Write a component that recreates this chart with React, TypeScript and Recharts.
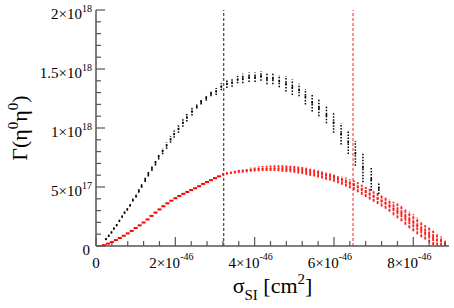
import React from 'react';
import { ScatterChart, Scatter, XAxis, YAxis, ErrorBar, ReferenceLine } from 'recharts';

const FONT = "'Liberation Serif', 'Times New Roman', 'DejaVu Serif', serif";
const AXIS_COLOR = '#555';

// x in units of 1e-46 cm^2, y in units of 1e17
const blackX = [0.25, 0.32, 0.39, 0.45, 0.52, 0.59, 0.66, 0.72, 0.79, 0.86, 0.93, 1.01, 1.08, 1.15, 1.24, 1.32, 1.41, 1.5, 1.58, 1.68, 1.78, 1.88, 1.97, 2.08, 2.19, 2.29, 2.42, 2.54, 2.65, 2.78, 2.9, 3.03, 3.16, 3.3, 3.43, 3.57, 3.7, 3.86, 4.01, 4.16, 4.31, 4.46, 4.62, 4.79, 4.95, 5.12, 5.28, 5.45, 5.62, 5.81, 5.99, 6.18, 6.36, 6.54, 6.73, 6.94, 7.13];
const blackLo = [0.5, 0.78, 1.07, 1.4, 1.68, 2.04, 2.4, 2.73, 3.0, 3.34, 3.78, 4.1, 4.52, 4.93, 5.42, 5.88, 6.35, 6.83, 7.33, 7.78, 8.25, 8.74, 9.18, 9.6, 10.1, 10.55, 11.05, 11.65, 12.0, 12.3, 12.7, 12.8, 13.2, 13.4, 13.5, 13.8, 13.8, 13.9, 13.9, 14.0, 13.7, 13.7, 13.45, 13.1, 12.8, 12.7, 12.0, 11.4, 11.0, 10.4, 9.6, 8.6, 7.8, 6.8, 5.4, 4.7, 4.4];
const blackHi = [0.68, 0.96, 1.25, 1.58, 1.86, 2.24, 2.6, 2.95, 3.24, 3.58, 4.04, 4.38, 4.82, 5.25, 5.78, 6.28, 6.77, 7.29, 7.81, 8.3, 8.79, 9.32, 9.78, 10.26, 10.78, 11.25, 11.75, 12.0, 12.4, 12.8, 13.1, 13.4, 13.8, 14.1, 14.2, 14.4, 14.6, 14.7, 14.7, 14.8, 14.65, 14.65, 14.5, 14.4, 14.1, 13.75, 13.3, 12.9, 12.4, 11.8, 11.3, 10.4, 9.8, 8.9, 7.9, 6.6, 5.4];

const redX = [0.2, 0.3, 0.4, 0.5, 0.6, 0.7, 0.8, 0.9, 1.0, 1.1, 1.2, 1.3, 1.4, 1.5, 1.6, 1.7, 1.8, 1.9, 2.0, 2.1, 2.2, 2.3, 2.4, 2.5, 2.6, 2.7, 2.8, 2.9, 3.0, 3.1,
  3.2, 3.3, 3.4, 3.5, 3.6, 3.7, 3.8, 3.9, 4.0, 4.1, 4.2, 4.3, 4.4, 4.5, 4.6, 4.7, 4.8, 4.9, 5.0, 5.1, 5.2, 5.3, 5.4, 5.5, 5.6, 5.7, 5.8, 5.9, 6.0, 6.1, 6.2, 6.3, 6.4, 6.5, 6.6, 6.7, 6.8, 6.9, 7.0, 7.1, 7.2, 7.3, 7.4, 7.5, 7.6, 7.7, 7.8, 7.9, 8.0, 8.1, 8.2, 8.3, 8.4, 8.5, 8.6, 8.7, 8.8];
const redLo = [0.07, 0.2, 0.33, 0.5, 0.68, 0.87, 1.07, 1.28, 1.52, 1.75, 1.99, 2.25, 2.55, 2.83, 3.1, 3.37, 3.62, 3.84, 4.05, 4.24, 4.42, 4.58, 4.74, 4.9, 5.07, 5.26, 5.42, 5.58, 5.75, 5.9,
  6.0, 6.05, 6.1, 6.15, 6.2, 6.22, 6.25, 6.3, 6.32, 6.34, 6.35, 6.35, 6.35, 6.35, 6.33, 6.3, 6.27, 6.24, 6.2, 6.15, 6.1, 6.03, 5.95, 5.88, 5.8, 5.73, 5.62, 5.55, 5.45, 5.32, 5.2, 5.05, 4.9, 4.75, 4.55, 4.35, 4.15, 3.95, 3.75, 3.55, 3.35, 3.15, 2.9, 2.6, 2.35, 2.1, 1.8, 1.5, 1.25, 1.0, 0.75, 0.55, 0.3, 0.08, 0.05, 0.05, 0.05];
const redHi = [0.07, 0.2, 0.33, 0.5, 0.68, 0.87, 1.07, 1.28, 1.52, 1.75, 1.99, 2.25, 2.55, 2.83, 3.1, 3.37, 3.62, 3.84, 4.05, 4.24, 4.42, 4.58, 4.74, 4.9, 5.07, 5.26, 5.42, 5.58, 5.75, 5.9,
  6.15, 6.25, 6.3, 6.38, 6.45, 6.5, 6.58, 6.65, 6.7, 6.74, 6.77, 6.8, 6.82, 6.84, 6.84, 6.84, 6.82, 6.8, 6.78, 6.75, 6.7, 6.65, 6.6, 6.55, 6.48, 6.4, 6.3, 6.22, 6.12, 6.0, 5.9, 5.8, 5.65, 5.55, 5.4, 5.2, 5.0, 4.85, 4.65, 4.5, 4.32, 4.15, 3.95, 3.75, 3.6, 3.4, 3.15, 2.9, 2.7, 2.4, 2.0, 1.75, 1.55, 1.3, 1.0, 0.8, 0.45];

const refLineX = [3.22, 6.48];
const refLineColors = ['#444444', '#ff4444'];

const xMajorTicks = [0, 2, 4, 6, 8];
const xMajorMantissa = ['0', '2×10', '4×10', '6×10', '8×10'];
const xMajorExp = ['', '-46', '-46', '-46', '-46'];
const xAllTicks = [0, 0.4, 0.8, 1.2, 1.6, 2, 2.4, 2.8, 3.2, 3.6, 4, 4.4, 4.8, 5.2, 5.6, 6, 6.4, 6.8, 7.2, 7.6, 8, 8.4, 8.8];

const yMajorTicks = [0, 5, 10, 15, 20];
const yMajorMantissa = ['0', '5×10', '1×10', '1.5×10', '2×10'];
const yMajorExp = ['', '17', '18', '18', '18'];
const yAllTicks = [0, 1, 2, 3, 4, 5, 6, 7, 8, 9, 10, 11, 12, 13, 14, 15, 16, 17, 18, 19, 20];

const toRows = (xs: number[], lo: number[], hi: number[]) =>
  xs.map((x, i) => ({ x, y: (lo[i] + hi[i]) / 2, err: [(hi[i] - lo[i]) / 2, (hi[i] - lo[i]) / 2] }));

const blackRows = toRows(blackX, blackLo, blackHi);
const redRows = toRows(redX, redLo, redHi);

const MAJOR = 9;
const MINOR = 5;
const ts = { fontFamily: FONT };

const BottomTick = (props: any) => {
  const { x, y, payload } = props;
  const idx = xMajorTicks.indexOf(payload.value);
  const major = idx >= 0;
  return (
    <g>
      <line x1={x} y1={y} x2={x} y2={y - (major ? MAJOR : MINOR)} stroke={AXIS_COLOR} strokeWidth={1.2} />
      {major && (
        <text x={idx === 0 ? x : x - 4} y={y + 22} textAnchor="middle" style={ts} fontSize={15} fill="#000">
          <tspan>{xMajorMantissa[idx]}</tspan>
          {xMajorExp[idx] && <tspan dy={-8} fontSize={10}>{xMajorExp[idx]}</tspan>}
        </text>
      )}
    </g>
  );
};

const TopTick = (props: any) => {
  const { x, y, payload } = props;
  const major = xMajorTicks.indexOf(payload.value) >= 0;
  return <line x1={x} y1={y} x2={x} y2={y + (major ? MAJOR : MINOR)} stroke={AXIS_COLOR} strokeWidth={1.2} />;
};

const LeftTick = (props: any) => {
  const { x, y, payload } = props;
  const idx = yMajorTicks.indexOf(payload.value);
  const major = idx >= 0;
  return (
    <g>
      <line x1={x} y1={y} x2={x + (major ? MAJOR : MINOR)} y2={y} stroke={AXIS_COLOR} strokeWidth={1.2} />
      {major && (
        <text x={idx === 0 ? x - 6 : x - 4} y={y + 9} textAnchor="end" style={ts} fontSize={15} fill="#000">
          <tspan>{yMajorMantissa[idx]}</tspan>
          {yMajorExp[idx] && <tspan dy={-7} fontSize={10}>{yMajorExp[idx]}</tspan>}
        </text>
      )}
    </g>
  );
};

const RightTick = (props: any) => {
  const { x, y, payload } = props;
  const major = yMajorTicks.indexOf(payload.value) >= 0;
  return <line x1={x} y1={y} x2={x - (major ? MAJOR : MINOR)} y2={y} stroke={AXIS_COLOR} strokeWidth={1.2} />;
};

const XTitle = (props: any) => {
  const vb = props.viewBox || { x: 96, y: 246, width: 353, height: 62 };
  const cx = vb.x + vb.width / 2;
  const by = vb.y + 47;
  return (
    <text x={cx} y={by} textAnchor="middle" style={ts} fontSize={22} fill="#000">
      <tspan>σ</tspan>
      <tspan dy={7} fontSize={15}>SI</tspan>
      <tspan dy={-7}> [cm</tspan>
      <tspan dy={-9} fontSize={15}>2</tspan>
      <tspan dy={9}>]</tspan>
    </text>
  );
};

const YTitle = (props: any) => {
  const vb = props.viewBox || { x: 0, y: 10, width: 96, height: 236 };
  const cy = vb.y + vb.height / 2;
  const bx = 27;
  return (
    <text x={bx} y={cy} transform={`rotate(-90, ${bx}, ${cy})`} textAnchor="middle" style={ts} fontSize={22} fill="#000">
      <tspan>Γ(η</tspan>
      <tspan dy={-9} fontSize={15}>0</tspan>
      <tspan dy={9}>η</tspan>
      <tspan dy={-9} fontSize={15}>0</tspan>
      <tspan dy={9}>)</tspan>
    </text>
  );
};

const RedDot = (props: any) => {
  const { cx, cy, payload } = props;
  if (cx == null || cy == null) return null;
  const hasRange = payload && payload.err && payload.err[0] > 0;
  if (hasRange) return <rect x={cx - 0.9} y={cy - 1} width={1.8} height={2} fill="#ff1a1a" />;
  return <rect x={cx - 2} y={cy - 1} width={4} height={2} fill="#ff0000" />;
};

const BlackDot = (props: any) => {
  const { cx, cy } = props;
  if (cx == null || cy == null) return null;
  return <rect x={cx - 0.8} y={cy - 1.1} width={1.6} height={2.2} fill="#000" />;
};

export default function App() {
  return (
    <div style={{ position: 'absolute', left: 0, top: 0, width: 454, height: 308, background: '#fff', fontFamily: FONT }}>
      <ScatterChart width={454} height={308} margin={{ top: 10, right: 5, bottom: 0, left: 0 }}>
        <XAxis
          xAxisId="b"
          type="number"
          dataKey="x"
          domain={[0, 8.9]}
          ticks={xAllTicks}
          interval={0}
          orientation="bottom"
          height={62}
          tickSize={0}
          tickMargin={0}
          tickLine={false}
          tick={<BottomTick />}
          axisLine={{ stroke: AXIS_COLOR, strokeWidth: 1.5 }}
          allowDataOverflow
          label={{ content: (p: any) => <XTitle viewBox={p.viewBox} /> }}
        />
        <XAxis
          xAxisId="t"
          type="number"
          dataKey="x"
          domain={[0, 8.9]}
          ticks={xAllTicks}
          interval={0}
          orientation="top"
          height={0}
          tickSize={0}
          tickMargin={0}
          tickLine={false}
          tick={<TopTick />}
          axisLine={{ stroke: AXIS_COLOR, strokeWidth: 1.5 }}
          allowDataOverflow
        />
        <YAxis
          yAxisId="l"
          type="number"
          dataKey="y"
          domain={[0, 20]}
          ticks={yAllTicks}
          interval={0}
          orientation="left"
          width={96}
          tickSize={0}
          tickMargin={0}
          tickLine={false}
          tick={<LeftTick />}
          axisLine={{ stroke: AXIS_COLOR, strokeWidth: 1.5 }}
          allowDataOverflow
          label={{ content: (p: any) => <YTitle viewBox={p.viewBox} /> }}
        />
        <YAxis
          yAxisId="r"
          type="number"
          dataKey="y"
          domain={[0, 20]}
          ticks={yAllTicks}
          interval={0}
          orientation="right"
          width={0}
          tickSize={0}
          tickMargin={0}
          tickLine={false}
          tick={<RightTick />}
          axisLine={{ stroke: AXIS_COLOR, strokeWidth: 1.5 }}
          allowDataOverflow
        />
        {refLineX.map((x, i) => (
          <ReferenceLine
            key={i}
            x={x}
            xAxisId="b"
            yAxisId="l"
            stroke={refLineColors[i]}
            strokeWidth={1.2}
            strokeDasharray="3 2"
            ifOverflow="extendDomain"
          />
        ))}
        <Scatter
          name="red"
          data={redRows}
          xAxisId="b"
          yAxisId="l"
          dataKey="y"
          shape={<RedDot />}
          isAnimationActive={false}
        >
          <ErrorBar dataKey="err" direction="y" width={0} stroke="#ff1a1a" strokeWidth={1.8} strokeDasharray="3 1" isAnimationActive={false} />
        </Scatter>
        <Scatter
          name="black"
          data={blackRows}
          xAxisId="t"
          yAxisId="r"
          dataKey="y"
          shape={<BlackDot />}
          isAnimationActive={false}
        >
          <ErrorBar dataKey="err" direction="y" width={0} stroke="#000" strokeWidth={1.5} strokeDasharray="1.5 1.5" isAnimationActive={false} />
        </Scatter>
      </ScatterChart>
    </div>
  );
}
